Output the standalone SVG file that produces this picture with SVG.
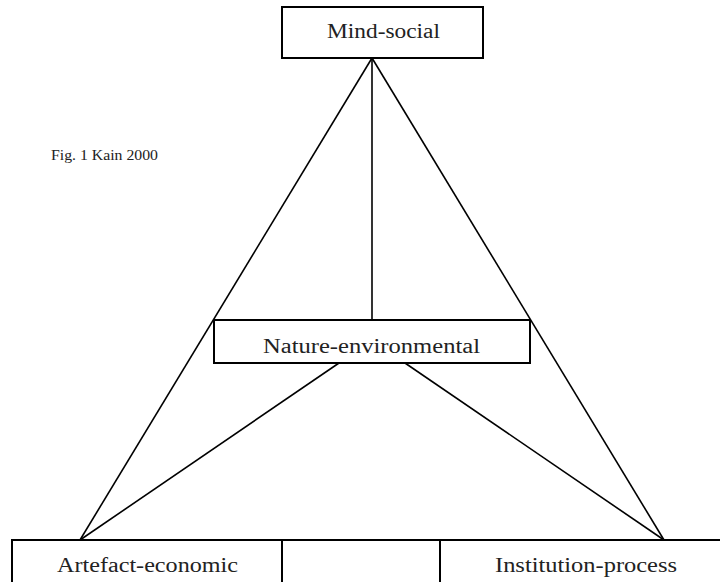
<svg xmlns="http://www.w3.org/2000/svg" width="720" height="582" viewBox="0 0 720 582">
<style>
.box{fill:#fff;stroke:#000;stroke-width:2}
.ln{stroke:#000;stroke-width:1.6;fill:none}
.t{font-family:'Liberation Serif','DejaVu Serif',serif;fill:#222;font-size:20px}
.s{font-size:15px}
</style>
<rect width="720" height="582" fill="#fff"/>
<g id="connectors">
<line class="ln" x1="372" y1="58" x2="80" y2="540"/>
<line class="ln" x1="372" y1="58" x2="664" y2="540"/>
<line class="ln" x1="372" y1="58" x2="372" y2="320"/>
<line class="ln" x1="339" y1="363" x2="80" y2="540"/>
<line class="ln" x1="405" y1="363" x2="664" y2="540"/>
</g>
<g id="mind-social">
<rect class="box" x="282" y="7" width="201" height="51"/>
<text class="t" x="327" y="38" textLength="113" lengthAdjust="spacingAndGlyphs">Mind-social</text>
</g>
<g id="nature-environmental">
<rect class="box" x="214" y="320" width="316" height="43"/>
<text class="t" x="263" y="353" textLength="217" lengthAdjust="spacingAndGlyphs">Nature-environmental</text>
</g>
<g id="artefact-economic">
<rect class="box" x="12" y="540" width="270" height="60"/>
<text class="t" x="57" y="572" textLength="181" lengthAdjust="spacingAndGlyphs">Artefact-economic</text>
</g>
<g id="middle-cell">
<rect class="box" x="282" y="540" width="158" height="60"/>
</g>
<g id="institution-process">
<rect class="box" x="440" y="540" width="300" height="60"/>
<text class="t" x="495" y="572" textLength="182" lengthAdjust="spacingAndGlyphs">Institution-process</text>
</g>
<text class="t s" x="51" y="160" textLength="107" lengthAdjust="spacingAndGlyphs">Fig. 1 Kain 2000</text>
</svg>
